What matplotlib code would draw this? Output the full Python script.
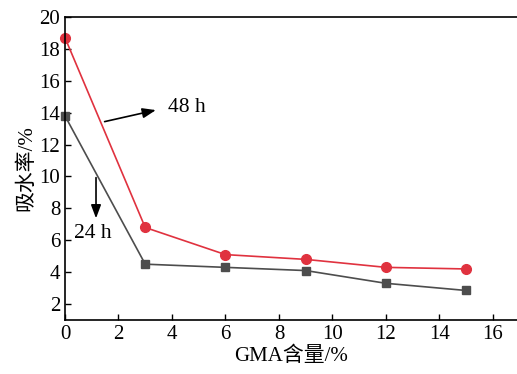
import matplotlib.pyplot as plt

plt.rcParams['font.family'] = ['Liberation Serif', 'Noto Sans CJK SC']
plt.rcParams['font.size'] = 15

gma = [0, 3, 6, 9, 12, 15]
w24 = [13.8, 4.5, 4.3, 4.1, 3.3, 2.85]
w48 = [18.7, 6.8, 5.1, 4.8, 4.3, 4.2]
xticks = [0, 2, 4, 6, 8, 10, 12, 14, 16]
yticks = [2, 4, 6, 8, 10, 12, 14, 16, 18, 20]

fig = plt.figure(figsize=(5.17, 3.74), dpi=100)
ax = fig.add_axes([0.1257, 0.1444, 0.8743, 0.8102])

ax.plot(gma, w24, color='#4d4d4d', lw=1.2, marker='s', markersize=6, clip_on=False)
ax.plot(gma, w48, color='#e0323f', lw=1.2, marker='o', markersize=7, clip_on=False)

arrow = dict(arrowstyle='-|>,head_length=0.8,head_width=0.3', color='black',
             lw=1.2, mutation_scale=10)
ax.annotate('', xy=(3.5, 14.2), xytext=(1.38, 13.4), arrowprops=arrow)
ax.text(3.85, 14.3, '48 h', fontsize=15.5, va='center')
ax.annotate('', xy=(1.16, 7.2), xytext=(1.16, 10.1), arrowprops=arrow)
ax.text(1.05, 6.4, '24 h', fontsize=15.5, va='center', ha='center')

ax.set_xlim(0, 16.9)
ax.set_ylim(1, 20)
ax.set_xticks(xticks)
ax.set_yticks(yticks)
ax.tick_params(direction='in', length=4, width=1)
ax.spines['right'].set_visible(False)
for s in ['left', 'bottom', 'top']:
    ax.spines[s].set_linewidth(1.2)
ax.set_xlabel('GMA含量/%', labelpad=2)
ax.set_ylabel('吸水率/%', labelpad=2)

fig.savefig('out.png', dpi=100)
